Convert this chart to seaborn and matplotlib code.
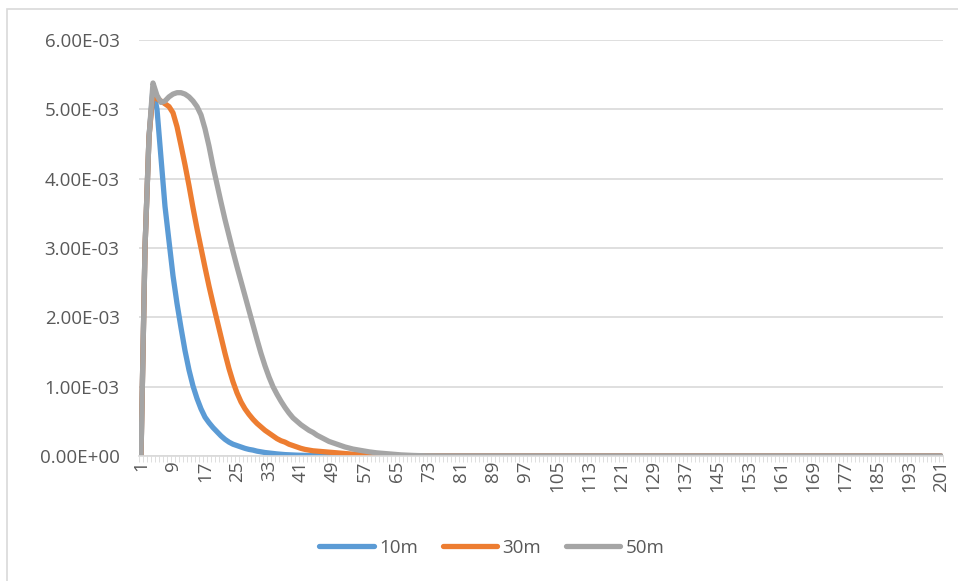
import numpy as np
import pandas as pd
import seaborn as sns
import matplotlib.pyplot as plt
from matplotlib.patches import Rectangle
from matplotlib.ticker import FuncFormatter, MultipleLocator

# values (x 10^-3), categories 1..201
vals_10m = [0.0, 3.0, 4.6, 5.3, 5.0, 4.3, 3.6, 3.1, 2.6, 2.2,
            1.85, 1.52, 1.24, 1.01, 0.83, 0.68, 0.56, 0.48, 0.41, 0.35,
            0.29, 0.24, 0.20, 0.17, 0.15, 0.13, 0.11, 0.095, 0.085, 0.07,
            0.06, 0.05, 0.043, 0.036, 0.03, 0.025, 0.02, 0.017, 0.014, 0.012,
            0.01, 0.008, 0.007, 0.006, 0.005, 0.004, 0.003, 0.003, 0.002, 0.002]
vals_30m = [0.0, 3.0, 4.6, 5.25, 5.15, 5.12, 5.08, 5.04, 4.95, 4.75,
            4.48, 4.2, 3.9, 3.58, 3.28, 3.0, 2.72, 2.45, 2.2, 1.96,
            1.72, 1.48, 1.26, 1.07, 0.91, 0.78, 0.68, 0.6, 0.53, 0.47,
            0.42, 0.37, 0.33, 0.29, 0.25, 0.22, 0.2, 0.17, 0.15, 0.13,
            0.11, 0.095, 0.085, 0.075, 0.07, 0.065, 0.06, 0.055, 0.05, 0.045,
            0.04, 0.035, 0.03, 0.026, 0.022, 0.019, 0.016, 0.013, 0.011, 0.009,
            0.007, 0.005, 0.004, 0.003, 0.002]
vals_50m = [0.0, 3.0, 4.6, 5.38, 5.2, 5.1, 5.12, 5.18, 5.22, 5.24,
            5.24, 5.22, 5.18, 5.12, 5.04, 4.92, 4.72, 4.47, 4.18, 3.92,
            3.66, 3.41, 3.18, 2.95, 2.73, 2.52, 2.31, 2.1, 1.89, 1.68,
            1.48, 1.3, 1.14, 1.0, 0.89, 0.79, 0.7, 0.62, 0.55, 0.5,
            0.45, 0.41, 0.37, 0.34, 0.3, 0.27, 0.24, 0.21, 0.19, 0.17,
            0.15, 0.13, 0.115, 0.1, 0.09, 0.08, 0.07, 0.06, 0.052, 0.045,
            0.04, 0.034, 0.029, 0.024, 0.02, 0.016, 0.013, 0.01, 0.008, 0.006,
            0.004, 0.003, 0.002]
n_cat = 201
series_names = ['10m', '30m', '50m']
colors = ['#5B9BD5', '#ED7D31', '#A5A5A5']

rows = []
for name, v in zip(series_names, [vals_10m, vals_30m, vals_50m]):
    full = v + [0.0] * (n_cat - len(v))
    for i, y in enumerate(full):
        rows.append({'x': i + 1, 'y': y * 1e-3, 'series': name})
df = pd.DataFrame(rows)

sns.set_style('white')
plt.rcParams['font.family'] = ['Open Sans', 'DejaVu Sans']

fig = plt.figure(figsize=(9.58, 5.81), dpi=100)
ax = fig.add_axes([139/958, 1-456/581, (943-139)/958, (456-40)/581])

sns.lineplot(data=df, x='x', y='y', hue='series', palette=colors,
             linewidth=3.8, ax=ax, legend=False)

ax.set_xlim(0.5, 201.5)
ax.set_ylim(0, 6e-3)
ax.yaxis.set_major_locator(MultipleLocator(1e-3))
ax.yaxis.set_major_formatter(FuncFormatter(lambda v, p: f'{v:.2E}'))
ax.grid(axis='y', color='#D9D9D9', linewidth=1.2)
ax.set_xticks(np.arange(1, n_cat + 1, 8))
ax.set_xticks(np.arange(0.5, n_cat + 1, 1), minor=True)
ax.tick_params(axis='x', which='major', length=0, labelsize=13.5,
               labelcolor='#595959', rotation=90, pad=3)
ax.tick_params(axis='x', which='minor', length=4, color='#D9D9D9', bottom=True)
ax.tick_params(axis='y', length=0, labelsize=13.5, labelcolor='#595959', pad=14)
for lab in ax.get_xticklabels():
    lab.set_verticalalignment('top')
ax.set_xlabel('')
ax.set_ylabel('')
for s in ['top', 'right', 'left']:
    ax.spines[s].set_visible(False)
ax.spines['bottom'].set_color('#D9D9D9')
ax.spines['bottom'].set_linewidth(1.2)

handles = [plt.Line2D([], [], color=c, linewidth=3.8, solid_capstyle='round') for c in colors]
fig.legend(handles, series_names, loc='center', bbox_to_anchor=(492/958, 1-548/581),
           ncol=3, frameon=False, handlelength=2.9, handletextpad=0.3,
           columnspacing=1.3, prop={'size': 13.5}, labelcolor='#595959')

# chart border (only left and top are visible in the crop)
fig.patches.append(Rectangle((7/958, -0.1), 1.2, 1.1 - 9/581, transform=fig.transFigure,
                             fill=False, edgecolor='#D9D9D9', linewidth=1.2))

fig.savefig('out.png', dpi=100)
